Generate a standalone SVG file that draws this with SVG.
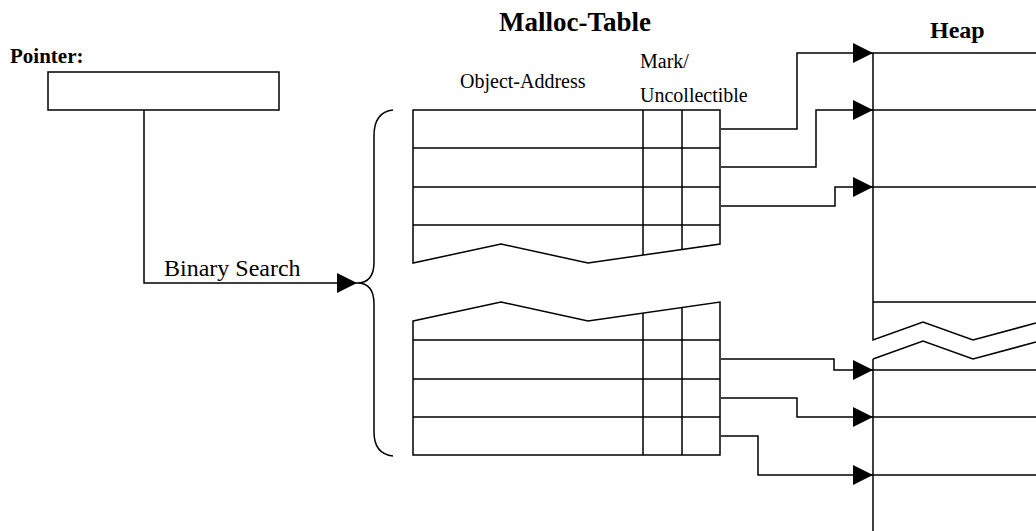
<svg xmlns="http://www.w3.org/2000/svg" width="1036" height="531" viewBox="0 0 1036 531">
<defs>
<style>
.ln{fill:none;stroke:#000;stroke-width:1.5}
.ah{fill:#000}
.t{font-family:"Liberation Serif","Times New Roman",serif;fill:#000}
.b{font-weight:bold}
</style>
<marker id="arr" viewBox="0 0 20 20" refX="20" refY="10" markerWidth="20" markerHeight="20" markerUnits="userSpaceOnUse" orient="auto">
<path d="M0,0 L20,10 L0,20 Z" class="ah"/>
</marker>
</defs>
<rect width="1036" height="531" fill="#fff"/>
<g id="pointer">
<text class="t b" x="10" y="63" font-size="21">Pointer:</text>
<rect class="ln" x="48" y="72" width="231" height="38"/>
</g>
<g id="malloc-table">
<text class="t b" x="499" y="31" font-size="27">Malloc-Table</text>
<text class="t" x="460" y="88" font-size="20">Object-Address</text>
<text class="t" x="640" y="68" font-size="20">Mark/</text>
<text class="t" x="640" y="102" font-size="20">Uncollectible</text>
<path class="ln" d="M393,110 Q374,112 374,136 L374,262 Q374,283 357,283 Q374,283 374,304 L374,432 Q374,454 393,456"/>
</g>
<g id="table-top">
<path class="ln" d="M413,110 H720 V244 L588,263 L501,244 L413,263 Z"/>
<path class="ln" d="M413,148 H720 M413,187 H720 M413,225 H720 M643,110 V255 M682,110 V249.5"/>
</g>
<g id="table-bottom">
<path class="ln" d="M413,321 L501,302 L588,321 L720,302 V455 H413 Z"/>
<path class="ln" d="M413,340 H720 M413,379 H720 M413,417 H720 M643,313 V455 M682,307.5 V455"/>
</g>
<g id="heap">
<text class="t b" x="930" y="38" font-size="24">Heap</text>
<path class="ln" d="M873,53 V340 L923,322 L973,340 L1036,323 M873,359 L923,341 L973,359 L1036,342 M873,359 V531"/>
<path class="ln" d="M873,53 H1036 M873,110 H1036 M873,187 H1036 M873,302 H1036 M873,370 H1036 M873,417 H1036 M873,475 H1036"/>
</g>
<g id="connectors">
<path class="ln" d="M144,110 V283 H357" marker-end="url(#arr)"/>
<text class="t" x="164" y="276" font-size="24">Binary Search</text>
<path class="ln" d="M721,129 H797 V53 H873" marker-end="url(#arr)"/>
<path class="ln" d="M721,167 H816 V110 H873" marker-end="url(#arr)"/>
<path class="ln" d="M721,206 H835 V187 H873" marker-end="url(#arr)"/>
<path class="ln" d="M721,359 H834 V370 H873" marker-end="url(#arr)"/>
<path class="ln" d="M721,398 H797 V417 H873" marker-end="url(#arr)"/>
<path class="ln" d="M721,436 H758 V475 H873" marker-end="url(#arr)"/>
</g>
</svg>
